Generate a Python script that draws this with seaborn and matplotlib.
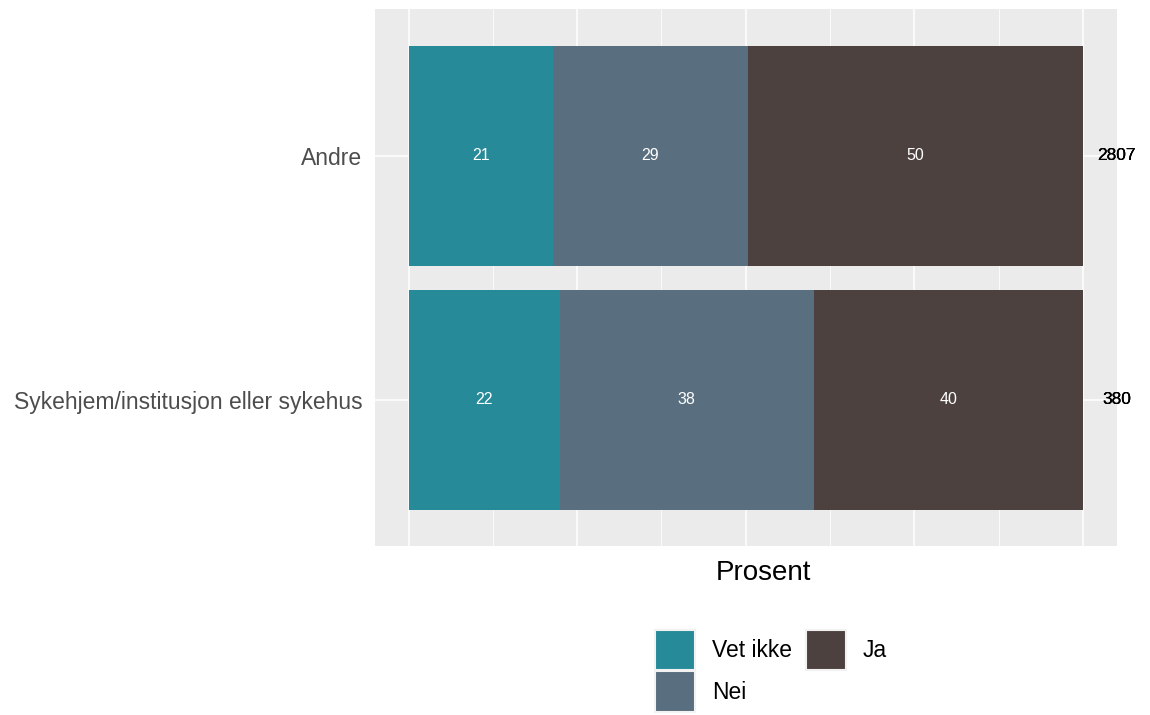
import numpy as np
import pandas as pd
import seaborn as sns
import matplotlib.pyplot as plt
from matplotlib.patches import Patch

groups = ["Andre", "Sykehjem/institusjon eller sykehus"]
answers = ["Vet ikke", "Nei", "Ja"]
vet_ikke = [21.4, 22.4]
nei = [28.9, 37.7]
ja = [49.7, 39.9]
n_total = [2807, 380]
colors = {"Vet ikke": "#268A99", "Nei": "#596E7E", "Ja": "#4D4140"}

df = pd.DataFrame({"gruppe": groups, "Vet ikke": vet_ikke, "Nei": nei, "Ja": ja})
cum = df[answers].cumsum(axis=1)

sns.set_theme(style="darkgrid", rc={
    "axes.facecolor": "#EBEBEB",
    "grid.color": "white",
})
plt.rcParams["font.family"] = ["Liberation Sans", "DejaVu Sans"]

fig, ax = plt.subplots(figsize=(11.5, 7.15), dpi=100)
fig.subplots_adjust(left=0.326, right=0.971, top=0.987, bottom=0.236)

# stacked bars: draw cumulative totals back to front
for ans in reversed(answers):
    sns.barplot(x=cum[ans], y=df["gruppe"], color=colors[ans], width=0.9,
                saturation=1, orient="h", ax=ax, linewidth=0,
                edgecolor="none")

# value labels in the middle of each segment, n on the right
for i in range(len(groups)):
    start = 0
    for ans in answers:
        v = df.loc[i, ans]
        ax.text(start + v / 2, i, f"{round(v):.0f}", color="white",
                ha="center", va="center", fontsize=11.5)
        start += v
        # n is written once per answer row, as in the original
        ax.text(105, i, str(n_total[i]), color="black", ha="center",
                va="center", fontsize=12.5, clip_on=False)

ax.set_xlim(-5, 105)
ax.set_ylim(1.6, -0.6)
ax.set_xticks([0, 25, 50, 75, 100])
ax.set_xticks([12.5, 37.5, 62.5, 87.5], minor=True)
ax.set_xticklabels([])
ax.tick_params(axis="x", which="both", length=0)
ax.grid(axis="x", which="major", color="white", linewidth=1.1)
ax.grid(axis="x", which="minor", color="white", linewidth=0.55)
ax.grid(axis="y", color="white", linewidth=1.1)
ax.tick_params(axis="y", length=0, labelsize=16.5,
               labelcolor="#4D4D4D", pad=9)
ax.set_ylabel("")
ax.set_xlabel("Prosent", fontsize=20, color="black")
ax.xaxis.set_label_coords((764 - 375) / 742, -14 / 537, transform=ax.transAxes)
ax.xaxis.label.set_va("top")

for s in ax.spines.values():
    s.set_visible(False)

handles = [Patch(facecolor=colors[a], edgecolor="#F2F2F2", linewidth=1.5)
           for a in answers]
fig.legend(handles, answers,
           loc="upper left", bbox_to_anchor=(655 / 1150, 1 - 630 / 715),
           ncol=2, frameon=False, fontsize=16.5, labelcolor="black",
           handlelength=1.75, handleheight=2.33,
           handletextpad=0.74, columnspacing=0.6, labelspacing=0.05,
           borderpad=0, borderaxespad=0)

fig.savefig("out.png", dpi=100)
